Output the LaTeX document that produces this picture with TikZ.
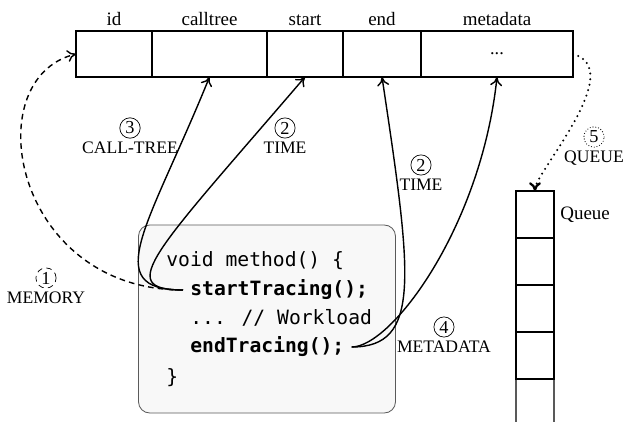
\documentclass[tikz,border=0pt]{standalone}
\usepackage{fontspec}
\usepackage{tikz}
\usetikzlibrary{arrows.meta, positioning}
\setmainfont{Liberation Serif}
\newfontfamily\codefont{DejaVu Sans Mono}
\definecolor{codebg}{RGB}{248,248,248}
\definecolor{codeline}{RGB}{90,90,90}

\begin{document}
\begin{tikzpicture}[
    x=0.25mm, y=-0.25mm,
    field/.style={draw, line width=0.9pt, outer sep=0pt, minimum height=11.5mm, inner sep=0pt, font=\fontsize{13}{15}\selectfont},
    fieldname/.style={font=\fontsize{13.5}{16}\selectfont},
    slot/.style={draw, line width=0.9pt, outer sep=0pt, minimum width=9.5mm, minimum height=11.75mm, inner sep=0pt},
    codeline/.style={anchor=west, inner xsep=5pt, inner ysep=0pt, font=\codefont\fontsize{14}{16}\selectfont},
    tag/.style={draw, circle, inner sep=1.3pt, line width=0.5pt, font=\fontsize{13}{15}\selectfont},
    tagtext/.style={inner sep=1pt, font=\fontsize{12.5}{14}\selectfont},
    arrow/.style={-{To[length=2.2mm, width=3mm]}, line width=1pt},
    dashline/.style={dash pattern=on 4pt off 3pt},
    dotline/.style={dash pattern=on 0pt off 4pt, line cap=round, line width=1.6pt}
]
    \useasboundingbox (0,0) rectangle (624,422);

    % Record fields
    \node[field, minimum width=19mm, label={[fieldname]above:id}] (id) at (114,54) {};
    \node[field, minimum width=28.75mm, right=0pt of id, label={[fieldname]above:calltree}] (calltree) {};
    \node[field, minimum width=19mm, right=0pt of calltree, label={[fieldname]above:start}] (start) {};
    \node[field, minimum width=19.5mm, right=0pt of start, label={[fieldname]above:end}] (end) {};
    \node[field, minimum width=38mm, right=0pt of end, label={[fieldname]above:metadata}] (metadata) {...};

    % Queue
    \node[slot, label={[fieldname, label distance=1pt]right:Queue}] (q1) at (535,214.5) {};
    \node[slot, below=0pt of q1] (q2) {};
    \node[slot, below=0pt of q2] (q3) {};
    \node[slot, below=0pt of q3] (q4) {};
    \coordinate (qbl) at (516,422);
    \coordinate (qbr) at (554,422);
    \draw[line width=0.9pt] (q4.south west) -- (qbl);
    \draw[line width=0.9pt] (q4.south east) -- (qbr);

    % Code block
    \node[draw=codeline, fill=codebg, rounded corners=8pt, line width=0.6pt,
          minimum width=64.25mm, minimum height=47mm] (code) at (267,319) {};
    \node[codeline] (head) at (159,261) {void method() \{};
    \node[codeline] (st) at (183,290) {\textbf{startTracing();}};
    \node[codeline] (work) at (183,318) {... // Workload};
    \node[codeline] (et) at (183,347) {\textbf{endTracing();}};
    \node[codeline] (close) at (159,378) {\}};

    % Connectors
    \draw[arrow, dashline] (st.west) .. controls +(-170,0) and +(-100,25) .. (id.west);
    \draw[arrow] (st.west) .. controls +(-85,0) and +(-60,148) .. (calltree.south);
    \draw[arrow] (st.west) .. controls +(-70,0) and +(-150,175) .. (start.south);
    \draw[arrow] (et.east) .. controls +(70,0) and +(30,200) .. (end.south);
    \draw[arrow] (et.east) .. controls +(40,0) and +(-16,150) .. (metadata.south);
    \draw[arrow, dotline] (metadata.east) .. controls +(55,15) and +(0,-18) .. (q1.north);

    % Step labels
    \node[tag, dashline] (n1) at (46,278) {1};
    \node[tagtext, below=1pt of n1] (memory) {MEMORY};
    \node[tag] (n3) at (130,128) {3};
    \node[tagtext, below=1pt of n3] (ctree) {CALL-TREE};
    \node[tag] (n2a) at (285,128) {2};
    \node[tagtext, below=1pt of n2a] (timea) {TIME};
    \node[tag] (n2b) at (421,165) {2};
    \node[tagtext, below=1pt of n2b] (timeb) {TIME};
    \node[tag] (n4) at (444,327) {4};
    \node[tagtext, below=1pt of n4] (meta) {METADATA};
    \node[tag, dash pattern=on 0pt off 2pt, line cap=round, line width=0.8pt] (n5) at (594,137) {5};
    \node[tagtext, below=1pt of n5] (queue) {QUEUE};
\end{tikzpicture}
\end{document}
